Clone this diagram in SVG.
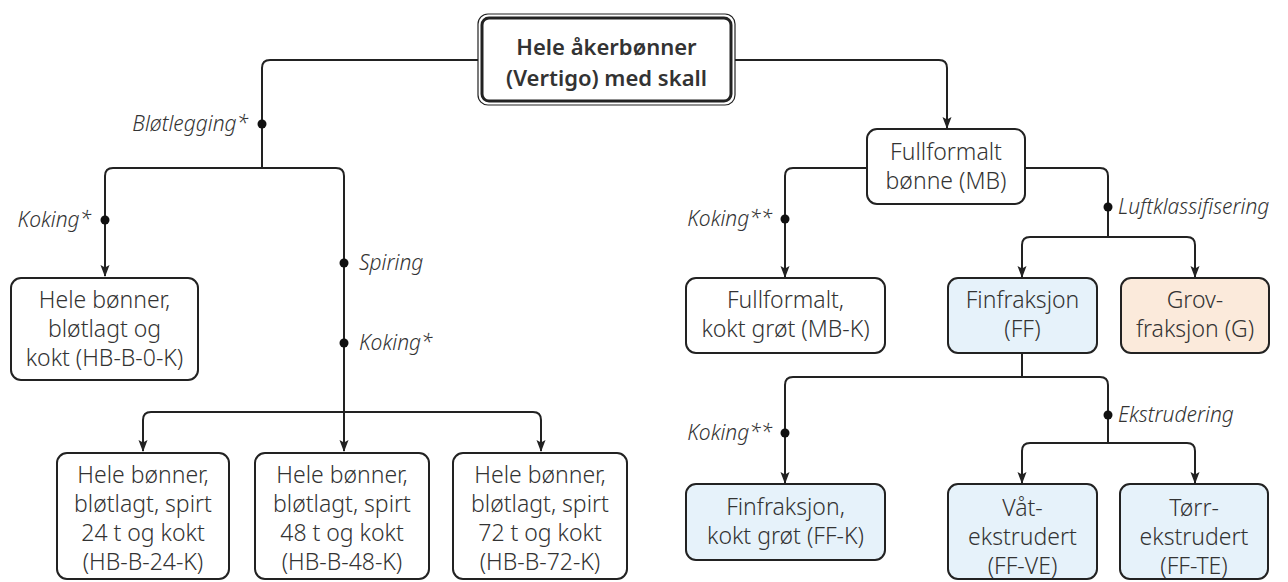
<svg xmlns="http://www.w3.org/2000/svg" width="1288" height="582" viewBox="0 0 1288 582">
<defs>
<style>
.box{fill:#fff;stroke:#222;stroke-width:2}
.blue{fill:#e6f2fa}
.peach{fill:#fbeadb}
.t{font-family:"Noto Sans","Open Sans",sans-serif;font-size:23px;font-weight:300;fill:#333;text-anchor:middle}
.tb{font-family:"Noto Sans","Open Sans",sans-serif;font-size:22px;font-weight:600;fill:#333;text-anchor:middle}
.lab{font-family:"Noto Sans","Open Sans",sans-serif;font-size:21px;font-style:italic;font-weight:300;fill:#333}
.c{fill:none;stroke:#222;stroke-width:2}
.dot{fill:#111}
</style>
<marker id="ar" viewBox="0 0 12 10" refX="11" refY="5" markerWidth="12" markerHeight="10" markerUnits="userSpaceOnUse" orient="auto">
<path d="M0,0.5 L12,5 L0,9.5 L2.5,5 z" fill="#222"/>
</marker>
</defs>
<g id="connectors">
<path class="c" d="M478,60 H270 Q262,60 262,68 V168"/>
<path class="c" d="M105,276 V176 Q105,168 113,168 H336 Q344,168 344,176 V451" marker-end="url(#ar)"/>
<path class="c" d="M105,200 V276" marker-end="url(#ar)"/>
<path class="c" d="M143,451 V420 Q143,412 151,412 H533 Q541,412 541,420 V451" marker-end="url(#ar)"/>
<path class="c" d="M143,430 V451" marker-end="url(#ar)"/>
<path class="c" d="M735,60 H939 Q947,60 947,68 V128" marker-end="url(#ar)"/>
<path class="c" d="M867,168 H793 Q785,168 785,176 V277" marker-end="url(#ar)"/>
<path class="c" d="M1025,168 H1100 Q1108,168 1108,176 V237"/>
<path class="c" d="M1022,277 V245 Q1022,237 1030,237 H1187 Q1195,237 1195,245 V277" marker-end="url(#ar)"/>
<path class="c" d="M1022,255 V277" marker-end="url(#ar)"/>
<path class="c" d="M1022,353 V377"/>
<path class="c" d="M785,483 V385 Q785,377 793,377 H1100 Q1108,377 1108,385 V443"/>
<path class="c" d="M785,460 V483" marker-end="url(#ar)"/>
<path class="c" d="M1022,483 V451 Q1022,443 1030,443 H1187 Q1195,443 1195,451 V483" marker-end="url(#ar)"/>
<path class="c" d="M1022,460 V483" marker-end="url(#ar)"/>
<circle class="dot" cx="262" cy="124" r="4.5"/>
<circle class="dot" cx="105" cy="220" r="4.5"/>
<circle class="dot" cx="344" cy="263" r="4.5"/>
<circle class="dot" cx="344" cy="343" r="4.5"/>
<circle class="dot" cx="785" cy="219" r="4.5"/>
<circle class="dot" cx="1108" cy="207" r="4.5"/>
<circle class="dot" cx="785" cy="433" r="4.5"/>
<circle class="dot" cx="1108" cy="415" r="4.5"/>
<text class="lab" x="248" y="131" text-anchor="end">Bløtlegging*</text>
<text class="lab" x="91" y="227" text-anchor="end">Koking*</text>
<text class="lab" x="359" y="270">Spiring</text>
<text class="lab" x="359" y="350">Koking*</text>
<text class="lab" x="772" y="226" text-anchor="end">Koking**</text>
<text class="lab" x="1118" y="214">Luftklassifisering</text>
<text class="lab" x="772" y="440" text-anchor="end">Koking**</text>
<text class="lab" x="1118" y="422">Ekstrudering</text>
</g>
<g id="root">
<rect x="478" y="14" width="257" height="91" rx="10" fill="#fff" stroke="#222" stroke-width="1.2"/>
<rect x="482" y="18" width="249" height="83" rx="7" fill="#fff" stroke="#222" stroke-width="3"/>
<text class="tb" x="606.500" y="55">Hele åkerbønner</text>
<text class="tb" x="606.500" y="86">(Vertigo) med skall</text>
</g>
<g id="hb-b-0-k">
<rect class="box" x="11" y="278" width="187" height="102" rx="10"/>
<text class="t" x="104.500" y="308">Hele bønner,</text>
<text class="t" x="104.500" y="337">bløtlagt og</text>
<text class="t" x="104.500" y="366">kokt (HB-B-0-K)</text>
</g>
<g id="hb-b-24-k">
<rect class="box" x="57" y="453" width="172" height="126" rx="10"/>
<text class="t" x="143" y="483">Hele bønner,</text>
<text class="t" x="143" y="512">bløtlagt, spirt</text>
<text class="t" x="143" y="541">24 t og kokt</text>
<text class="t" x="143" y="570">(HB-B-24-K)</text>
</g>
<g id="hb-b-48-k">
<rect class="box" x="255" y="453" width="174" height="126" rx="10"/>
<text class="t" x="342" y="483">Hele bønner,</text>
<text class="t" x="342" y="512">bløtlagt, spirt</text>
<text class="t" x="342" y="541">48 t og kokt</text>
<text class="t" x="342" y="570">(HB-B-48-K)</text>
</g>
<g id="hb-b-72-k">
<rect class="box" x="453" y="453" width="174" height="126" rx="10"/>
<text class="t" x="540" y="483">Hele bønner,</text>
<text class="t" x="540" y="512">bløtlagt, spirt</text>
<text class="t" x="540" y="541">72 t og kokt</text>
<text class="t" x="540" y="570">(HB-B-72-K)</text>
</g>
<g id="mb">
<rect class="box" x="867" y="129" width="158" height="75" rx="10"/>
<text class="t" x="946" y="160">Fullformalt</text>
<text class="t" x="946" y="189">bønne (MB)</text>
</g>
<g id="mb-k">
<rect class="box" x="686" y="278" width="199" height="75" rx="10"/>
<text class="t" x="785.500" y="308">Fullformalt,</text>
<text class="t" x="785.500" y="337">kokt grøt (MB-K)</text>
</g>
<g id="ff">
<rect class="box blue" x="948" y="278" width="149" height="75" rx="10"/>
<text class="t" x="1022.500" y="308">Finfraksjon</text>
<text class="t" x="1022.500" y="337">(FF)</text>
</g>
<g id="g">
<rect class="box peach" x="1121" y="278" width="148" height="75" rx="10"/>
<text class="t" x="1195" y="308">Grov-</text>
<text class="t" x="1195" y="337">fraksjon (G)</text>
</g>
<g id="ff-k">
<rect class="box blue" x="686" y="484" width="199" height="76" rx="10"/>
<text class="t" x="785.500" y="515">Finfraksjon,</text>
<text class="t" x="785.500" y="544">kokt grøt (FF-K)</text>
</g>
<g id="ff-ve">
<rect class="box blue" x="948" y="484" width="149" height="95" rx="10"/>
<text class="t" x="1022.500" y="516">Våt-</text>
<text class="t" x="1022.500" y="545">ekstrudert</text>
<text class="t" x="1022.500" y="574">(FF-VE)</text>
</g>
<g id="ff-te">
<rect class="box blue" x="1120" y="484" width="148" height="95" rx="10"/>
<text class="t" x="1194" y="516">Tørr-</text>
<text class="t" x="1194" y="545">ekstrudert</text>
<text class="t" x="1194" y="574">(FF-TE)</text>
</g>
</svg>
